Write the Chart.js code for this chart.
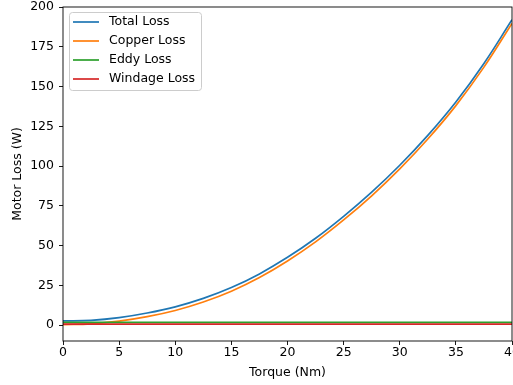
<!DOCTYPE html>
<html>
<head>
<meta charset="utf-8">
<script src="https://cdn.jsdelivr.net/npm/chart.js@4"></script>
<style>
  body { margin: 0; background: #fff; }
  canvas { display: block; }
</style>
</head>
<body>
<canvas id="lossChart" width="513" height="385"></canvas>
<script>
const torque = [0, 2.5, 5, 7.5, 10, 12.5, 15, 17.5, 20, 22.5, 25, 27.5, 30, 32.5, 35, 37.5, 40];
const totalLoss = [2.6, 3.0, 4.7, 7.6, 11.5, 16.8, 23.6, 32.2, 42.6, 54.6, 68.4, 83.6, 100.5, 119.3, 140.3, 164.5, 192];
const copperLoss = [0.3, 0.8, 2.5, 5.3, 9.2, 14.5, 21.3, 29.9, 40.3, 52.3, 66.1, 81.3, 98.2, 117, 138, 162.2, 189.7];
const eddyLoss = [1.7, 1.7, 1.7, 1.7, 1.7, 1.7, 1.7, 1.7, 1.7, 1.7, 1.7, 1.7, 1.7, 1.7, 1.7, 1.7, 1.7];
const windageLoss = [0.6, 0.6, 0.6, 0.6, 0.6, 0.6, 0.6, 0.6, 0.6, 0.6, 0.6, 0.6, 0.6, 0.6, 0.6, 0.6, 0.6];
const xTicks = [0, 5, 10, 15, 20, 25, 30, 35, 40];
const yTicks = [0, 25, 50, 75, 100, 125, 150, 175, 200];

const font = { family: "DejaVu Sans", size: 12.5 };

const toPoints = (vals) => torque.map((t, i) => ({ x: t, y: vals[i] }));

const series = [
    { label: "Total Loss", data: totalLoss, color: "#1f77b4" },
    { label: "Copper Loss", data: copperLoss, color: "#ff7f0e" },
    { label: "Eddy Loss", data: eddyLoss, color: "#2ca02c" },
    { label: "Windage Loss", data: windageLoss, color: "#d62728" },
];

// frame round the plot + matplotlib style legend box
const framePlugin = {
    id: "frame",
    afterDatasetsDraw(chart) {
        const { ctx, chartArea: a } = chart;
        ctx.save();
        ctx.strokeStyle = "#000";
        ctx.lineWidth = 0.9;
        ctx.strokeRect(a.left, a.top, a.right - a.left, a.bottom - a.top);

        // legend
        const x0 = 69, y0 = 12, w = 132, h = 78;
        ctx.beginPath();
        ctx.roundRect(x0 + 0.5, y0 + 0.5, w, h, 3);
        ctx.fillStyle = "rgba(255,255,255,0.8)";
        ctx.fill();
        ctx.strokeStyle = "#cccccc";
        ctx.lineWidth = 1;
        ctx.stroke();
        ctx.font = "12.5px 'DejaVu Sans'";
        ctx.textBaseline = "middle";
        ctx.fillStyle = "#000";
        chart.data.datasets.forEach((ds, i) => {
            const y = 22 + i * 19;
            ctx.strokeStyle = ds.borderColor;
            ctx.lineWidth = 1.7;
            ctx.beginPath();
            ctx.moveTo(73, y);
            ctx.lineTo(99, y);
            ctx.stroke();
            ctx.fillText(ds.label, 109, y);
        });
        ctx.restore();
    },
};

new Chart(document.getElementById("lossChart"), {
    type: "line",
    data: {
        datasets: series.map((s, i) => ({
            label: s.label,
            data: toPoints(s.data),
            borderColor: s.color,
            backgroundColor: s.color,
            borderWidth: 1.7,
            pointRadius: 0,
            tension: 0.4,
            fill: false,
            order: series.length - i,
        })),
    },
    options: {
        responsive: false,
        animation: false,
        layout: { padding: { left: 0, top: 7, right: 1, bottom: 0 } },
        plugins: {
            legend: { display: false },
            tooltip: { enabled: false },
        },
        scales: {
            x: {
                type: "linear",
                min: 0,
                max: 40,
                afterBuildTicks: (scale) => {
                    scale.ticks = xTicks.map((v) => ({ value: v }));
                },
                afterFit: (scale) => {
                    scale.height = 44;
                    scale.paddingLeft = 0;
                    scale.paddingRight = 0;
                },
                grid: { drawOnChartArea: false, tickLength: 4, color: "#000", tickWidth: 0.9 },
                border: { display: false },
                ticks: { font, color: "#000", padding: 0, maxRotation: 0, autoSkip: false },
                title: { display: true, text: "Torque (Nm)", font, color: "#000", padding: { top: 2, bottom: 5 } },
            },
            y: {
                min: -10,
                max: 200,
                afterBuildTicks: (scale) => {
                    scale.ticks = yTicks.map((v) => ({ value: v }));
                },
                afterFit: (scale) => {
                    scale.width = 63;
                    scale.paddingTop = 0;
                    scale.paddingBottom = 0;
                },
                grid: { drawOnChartArea: false, tickLength: 4, color: "#000", tickWidth: 0.9 },
                border: { display: false },
                ticks: { font, color: "#000", padding: 5, autoSkip: false },
                title: { display: true, text: "Motor Loss (W)", font, color: "#000", padding: { top: 10, bottom: 4 } },
            },
        },
    },
    plugins: [framePlugin],
});
</script>
</body>
</html>
